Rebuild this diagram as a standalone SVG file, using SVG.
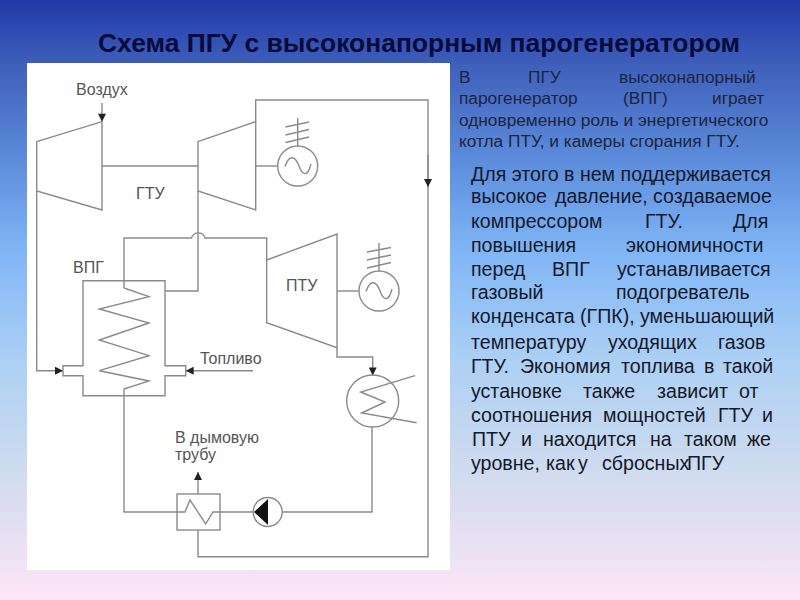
<svg xmlns="http://www.w3.org/2000/svg" width="800" height="600" viewBox="0 0 800 600">
<style>
.l{fill:none;stroke:#8a8a8a;stroke-width:1.4}
.lab{font-family:"Liberation Sans",Arial,sans-serif;font-size:16px;fill:#555}
.t1{font-family:"Liberation Sans",Arial,sans-serif;font-size:17.3px;fill:#1c2440}
.t2{font-family:"Liberation Sans",Arial,sans-serif;font-size:19.6px;fill:#14182a}
.title{font-family:"Liberation Sans",Arial,sans-serif;font-size:25px;font-weight:bold;fill:#070b3c}
</style>
<defs>
<linearGradient id="bg" x1="0" y1="0" x2="0" y2="1">
<stop offset="0" stop-color="#2238a8"/>
<stop offset="0.11" stop-color="#3f60bb"/>
<stop offset="0.28" stop-color="#5f90de"/>
<stop offset="0.42" stop-color="#80b6f6"/>
<stop offset="0.6" stop-color="#acd0f4"/>
<stop offset="0.8" stop-color="#d2dcee"/>
<stop offset="1" stop-color="#fce6f8"/>
</linearGradient>
<marker id="a" viewBox="0 0 10 10" refX="10" refY="5" markerWidth="10" markerHeight="8" markerUnits="userSpaceOnUse" orient="auto"><path d="M0 0L10 5L0 10Z" fill="#222"/></marker>
</defs>
<rect id="background" width="800" height="600" fill="url(#bg)"/>
<rect id="panel" x="27" y="63" width="423" height="507" fill="#fff"/>
<text id="title" class="title" x="98" y="52" textLength="642" lengthAdjust="spacingAndGlyphs">Схема ПГУ с высоконапорным парогенератором</text>

<g id="connectors">
<path class="l" d="M102 166H198"/>
<path class="l" d="M255.700 166H277.700"/>
<path class="l" d="M337 291H359"/>
<path class="l" d="M102 103V121.700" marker-end="url(#a)"/>
<path class="l" d="M255.700 121.700V100H428V556.700H198V530"/>
<path class="l" d="M428 155V187" marker-end="url(#a)"/>
<path class="l" d="M36.700 191V370.700H63" marker-end="url(#a)"/>
<path class="l" d="M253 370.700H185.700" marker-end="url(#a)"/>
<path class="l" d="M198 191V291H165"/>
<path class="l" d="M124 288V238H191.500A7 7 0 0 1 205 238H266.700V260"/>
<path class="l" d="M124 396V512H177"/>
<path class="l" d="M220 512H253"/>
<path class="l" d="M282.500 512H372V427"/>
<path class="l" d="M337 347.700V357H372.700V375.500" marker-end="url(#a)"/>
<path class="l" d="M198 494V472" marker-end="url(#a)"/>
</g>

<g id="compressor"><path class="l" d="M36.700 141.700L102 121.700V210L36.700 191Z"/></g>
<g id="gas-turbine"><path class="l" d="M198 141.700L255.700 121.700V210L198 191Z"/></g>
<g id="steam-turbine"><path class="l" d="M266.700 260L337 234V347.700L266.700 322.700Z"/></g>
<g id="generator-1">
<circle class="l" cx="297.700" cy="166" r="20"/>
<path class="l" d="M285 166.500C289 155 295 155 299 166C303 177 308 176 311 164"/>
<path class="l" d="M297.700 118V146M285.500 127L309 122M285.500 135L309 129.500M285.500 142.500L309 137"/>
</g>
<g id="generator-2">
<circle class="l" cx="379" cy="291" r="20"/>
<path class="l" d="M366 291.500C370 280 376 280 380 291C384 302 389 301 392 289"/>
<path class="l" d="M379 243V271M367 252L391 247.500M367 260L391 255M367 268L391 262.500"/>
</g>
<g id="steam-generator">
<path class="l" d="M83 365.700V280.700H165V365.700H185.700V375.700H165V395.700H83V375.700H63V365.700Z"/>
<path class="l" d="M124 288L149 296.700L99.300 309L149 323L99.300 340L149 355.700L99.300 370.700L149 381L124 389V396"/>
</g>
<g id="condenser">
<circle class="l" cx="372.700" cy="401" r="26"/>
<path class="l" d="M415 375.700L360.700 392L385 402L361.700 413L416.700 422.700"/>
</g>
<g id="gas-heater">
<rect class="l" x="177" y="494" width="43" height="36"/>
<path class="l" d="M177 512H185L190 500L205.700 524L213 512H220"/>
</g>
<g id="pump">
<circle class="l" cx="267.700" cy="512" r="14.500"/>
<path d="M254 512L268 499V525Z" fill="#111"/>
</g>

<g id="labels">
<text class="lab" x="76" y="95">Воздух</text>
<text class="lab" x="136" y="199">ГТУ</text>
<text class="lab" x="73" y="272.500">ВПГ</text>
<text class="lab" x="286" y="291">ПТУ</text>
<text class="lab" x="200" y="364">Топливо</text>
<text class="lab" x="175" y="443">В дымовую</text>
<text class="lab" x="175" y="460">трубу</text>
</g>

<g id="text-top" class="t1">
<text y="83"><tspan x="459">В</tspan> <tspan x="528">ПГУ</tspan> <tspan x="619">высоконапорный</tspan></text>
<text y="104"><tspan x="459">парогенератор</tspan> <tspan x="623">(ВПГ)</tspan> <tspan x="712">играет</tspan></text>
<text x="459" y="126">одновременно роль и энергетического</text>
<text x="459" y="147">котла ПТУ, и камеры сгорания ГТУ.</text>
</g>
<g id="text-main" class="t2">
<text x="471" y="180.700">Для этого в нем поддерживается</text>
<text y="203"><tspan x="471">высокое</tspan> <tspan x="555">давление,</tspan> <tspan x="653">создаваемое</tspan></text>
<text y="228"><tspan x="471">компрессором</tspan> <tspan x="645">ГТУ.</tspan> <tspan x="733">Для</tspan></text>
<text y="252"><tspan x="471">повышения</tspan> <tspan x="626">экономичности</tspan></text>
<text y="276"><tspan x="471">перед</tspan> <tspan x="552">ВПГ</tspan> <tspan x="617">устанавливается</tspan></text>
<text y="299"><tspan x="471">газовый</tspan> <tspan x="616">подогреватель</tspan></text>
<text y="323"><tspan x="471">конденсата</tspan> <tspan x="580">(ГПК),</tspan> <tspan x="640">уменьшающий</tspan></text>
<text y="349"><tspan x="471">температуру</tspan> <tspan x="608">уходящих</tspan> <tspan x="718">газов</tspan></text>
<text y="373"><tspan x="471">ГТУ.</tspan> <tspan x="520">Экономия</tspan> <tspan x="621">топлива</tspan> <tspan x="704">в</tspan> <tspan x="723">такой</tspan></text>
<text y="398"><tspan x="471">установке</tspan> <tspan x="583">также</tspan> <tspan x="657">зависит</tspan> <tspan x="739">от</tspan></text>
<text y="422"><tspan x="471">соотношения</tspan> <tspan x="603">мощностей</tspan> <tspan x="718">ГТУ</tspan> <tspan x="762">и</tspan></text>
<text y="446"><tspan x="472">ПТУ</tspan> <tspan x="521">и</tspan> <tspan x="543">находится</tspan> <tspan x="650">на</tspan> <tspan x="684">таком</tspan> <tspan x="747">же</tspan></text>
<text y="470"><tspan x="471">уровне,</tspan> <tspan x="546">как</tspan> <tspan x="578">у</tspan> <tspan x="602">сбросных</tspan> <tspan x="687">ПГУ</tspan></text>
</g>
</svg>
